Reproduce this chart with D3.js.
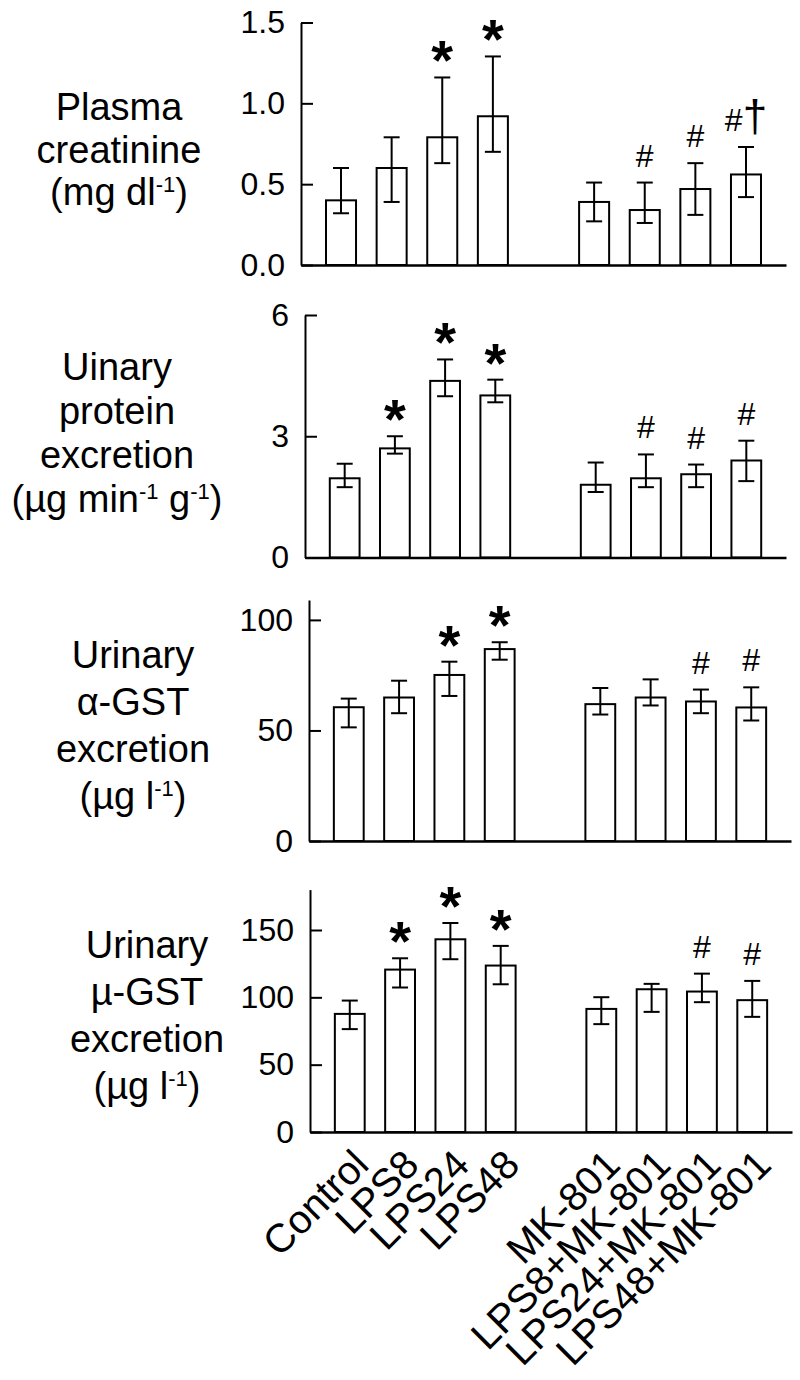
<!DOCTYPE html>
<html>
<head>
<meta charset="utf-8">
<style>
  body { margin: 0; background: #fff; }
  text { font-family: "Liberation Sans", Arial, sans-serif; fill: #000; }
</style>
<script src="https://cdn.jsdelivr.net/npm/d3@7/dist/d3.min.js"></script>
</head>
<body>
<script>
  // groups of treatments, an empty slot sits between them
  const groupA = ["Control", "LPS8", "LPS24", "LPS48"];
  const groupB = ["MK-801", "LPS8+MK-801", "LPS24+MK-801", "LPS48+MK-801"];
  const categories = groupA.concat(groupB);

  // Plasma creatinine (mg/dl)
  const creatMean  = [0.40, 0.60, 0.79, 0.92, 0.39, 0.34, 0.47, 0.56];
  const creatLow   = [0.32, 0.39, 0.63, 0.70, 0.27, 0.26, 0.31, 0.42];
  const creatHigh  = [0.60, 0.79, 1.16, 1.29, 0.51, 0.51, 0.63, 0.73];
  const creatMarks = ["", "", "*", "*", "", "#", "#", "#†"];
  const creatTicks = [0, 0.5, 1.0, 1.5];

  // Urinary protein excretion
  const protMean  = [1.96, 2.70, 4.37, 4.01, 1.80, 1.96, 2.06, 2.40];
  const protLow   = [1.74, 2.57, 3.99, 3.84, 1.62, 1.74, 1.74, 1.89];
  const protHigh  = [2.32, 3.00, 4.90, 4.40, 2.35, 2.55, 2.30, 2.89];
  const protMarks = ["", "*", "*", "*", "", "#", "#", "#"];
  const protTicks = [0, 3, 6];

  // Urinary alpha-GST excretion
  const aGstMean  = [60.5, 64.9, 75.1, 86.8, 61.9, 64.9, 63.1, 60.4];
  const aGstLow   = [51.4, 57.8, 65.6, 82.0, 57.2, 61.3, 57.8, 54.5];
  const aGstHigh  = [64.4, 72.5, 81.1, 89.9, 69.2, 73.1, 68.5, 69.5];
  const aGstMarks = ["", "", "*", "*", "", "", "#", "#"];
  const aGstTicks = [0, 50, 100];

  // Urinary mu-GST excretion
  const mGstMean  = [87.7, 120.6, 143.1, 123.6, 91.4, 106.0, 104.3, 97.9];
  const mGstLow   = [76.4, 107.3, 128.3, 109.7, 80.1, 89.2, 96.4, 85.5];
  const mGstHigh  = [97.6, 129.0, 155.2, 138.2, 100.1, 110.0, 117.6, 112.2];
  const mGstMarks = ["", "*", "*", "*", "", "", "#", "#"];
  const mGstTicks = [0, 50, 100, 150];

  const width = 800, height = 1380;

  // layout of the four stacked panels
  const panels = [
    {mean: creatMean, low: creatLow, high: creatHigh, marks: creatMarks, ticks: creatTicks,
     top: 1.5, fmt: d3.format(".1f"), x0: 301, x1: 786, yTop: 22.5, yBase: 265,
     title: ["Plasma", "creatinine", "(mg dl^{-1})"], tx: 119, ty: 120, tstep: 42.5},
    {mean: protMean, low: protLow, high: protHigh, marks: protMarks, ticks: protTicks,
     top: 6, fmt: d3.format("d"), x0: 305, x1: 786, yTop: 315, yBase: 557.5,
     title: ["Uinary", "protein", "excretion", "(µg min^{-1} g^{-1})"], tx: 117, ty: 380, tstep: 44},
    {mean: aGstMean, low: aGstLow, high: aGstHigh, marks: aGstMarks, ticks: aGstTicks,
     top: 109, fmt: d3.format("d"), x0: 309, x1: 791, yTop: 600, yBase: 841,
     title: ["Urinary", "α-GST", "excretion", "(µg l^{-1})"], tx: 133, ty: 668, tstep: 47},
    {mean: mGstMean, low: mGstLow, high: mGstHigh, marks: mGstMarks, ticks: mGstTicks,
     top: 180, fmt: d3.format("d"), x0: 310, x1: 792, yTop: 889.6, yBase: 1132,
     title: ["Urinary", "µ-GST", "excretion", "(µg l^{-1})"], tx: 147, ty: 958, tstep: 47, labels: true}
  ];

  const svg = d3.select("body").append("svg")
      .attr("width", width)
      .attr("height", height);

  const slots = groupA.concat([""], groupB);

  panels.forEach(function(p) {
    const x = d3.scaleBand().domain(slots).range([p.x0, p.x1])
        .paddingInner(0.407).paddingOuter(0.494);
    const y = d3.scaleLinear().domain([0, p.top]).range([p.yBase, p.yTop]);
    const g = svg.append("g");

    const rows = categories.map((c, i) => ({cat: c, mean: p.mean[i], low: p.low[i], high: p.high[i], mark: p.marks[i]}));

    // bars
    g.selectAll("rect").data(rows).enter().append("rect")
        .attr("x", d => x(d.cat))
        .attr("width", x.bandwidth())
        .attr("y", d => y(d.mean))
        .attr("height", d => y(0) - y(d.mean))
        .attr("fill", "#fff")
        .attr("stroke", "#000")
        .attr("stroke-width", 2);

    // error bars with caps
    const cx = d => x(d.cat) + x.bandwidth() / 2;
    const eb = g.selectAll(".err").data(rows).enter().append("g").attr("class", "err")
        .attr("stroke", "#000").attr("stroke-width", 2);
    eb.append("line").attr("x1", cx).attr("x2", cx)
        .attr("y1", d => y(d.low)).attr("y2", d => y(d.high));
    eb.append("line").attr("x1", d => cx(d) - 8).attr("x2", d => cx(d) + 8)
        .attr("y1", d => y(d.high)).attr("y2", d => y(d.high));
    eb.append("line").attr("x1", d => cx(d) - 8).attr("x2", d => cx(d) + 8)
        .attr("y1", d => y(d.low)).attr("y2", d => y(d.low));

    // significance marks
    rows.filter(d => d.mark).forEach(function(d) {
      const t = g.append("text")
          .attr("x", cx(d))
          .style("text-anchor", "middle");
      if (d.mark === "*") {
        t.attr("y", y(d.high) + 2).style("font-size", "56px").style("font-weight", "bold").text("*");
      } else {
        t.attr("y", y(d.high) - 16).style("font-size", "32px");
        t.append("tspan").text("#");
        if (d.mark.length > 1) t.append("tspan").style("font-size", "44px").text(d.mark.slice(1));
      }
    });

    // y axis, ticks point inward
    g.append("g")
        .attr("transform", "translate(" + p.x0 + ",0)")
        .call(d3.axisLeft(y).tickValues(p.ticks).tickFormat(p.fmt)
            .tickSize(-12).tickSizeOuter(0).tickPadding(16))
        .call(a => a.selectAll("path, line").attr("stroke-width", 2))
        .call(a => a.selectAll("text").style("font-size", "32px").attr("font-family", null));

    // x baseline (and labels on the last panel)
    const xa = g.append("g")
        .attr("transform", "translate(0," + p.yBase + ")")
        .call(d3.axisBottom(x).tickSize(0).tickSizeOuter(0))
        .call(a => a.select("path").attr("stroke-width", 2.4));
    if (p.labels) {
      xa.selectAll("text")
          .attr("y", 0).attr("dy", 0)
          .attr("transform", "translate(21,35) rotate(-45)")
          .attr("font-family", null)
          .style("text-anchor", "end")
          .style("font-size", "40px");
    } else {
      xa.selectAll("text").remove();
    }

    // multi-line axis title with superscripts
    p.title.forEach(function(line, li) {
      const t = g.append("text")
          .attr("x", p.tx)
          .attr("y", p.ty + li * p.tstep)
          .style("text-anchor", "middle")
          .style("font-size", "38px");
      let up = false;
      line.split(/\^\{(.*?)\}/).forEach(function(part, k) {
        if (k % 2 === 1) {
          t.append("tspan").attr("dy", -13).style("font-size", "22px").text(part);
          up = true;
        } else if (part) {
          t.append("tspan").attr("dy", up ? 13 : 0).text(part);
          up = false;
        }
      });
    });
  });
</script>
</body>
</html>
